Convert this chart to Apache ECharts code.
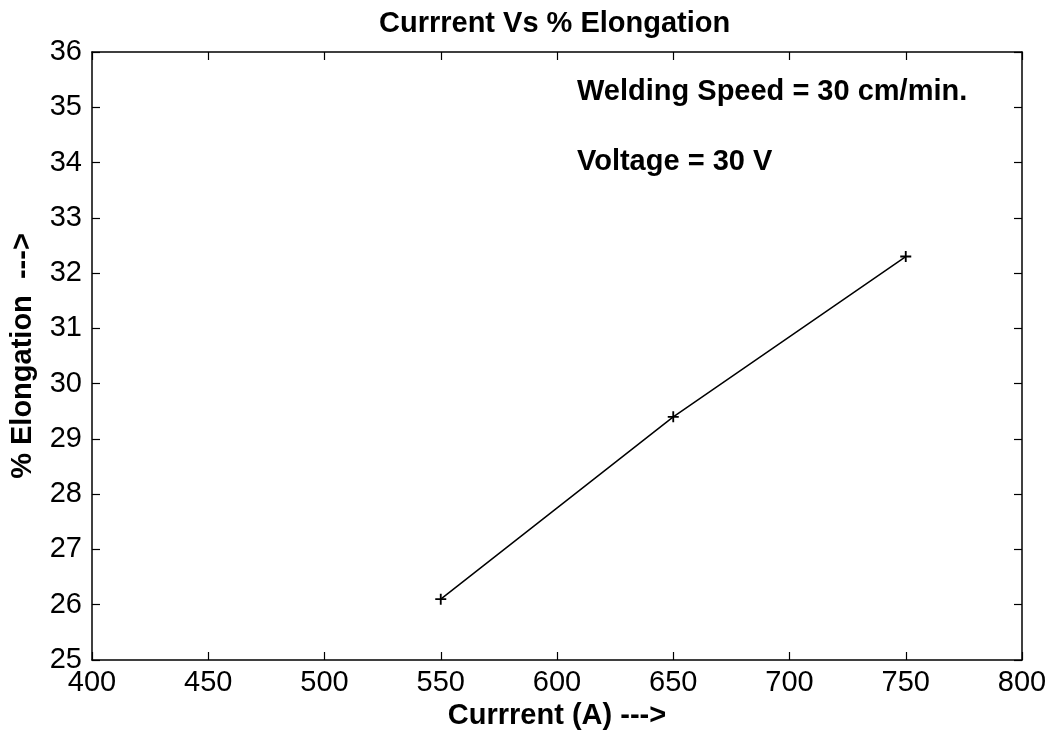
<!DOCTYPE html>
<html>
<head>
<meta charset="utf-8">
<script src="https://cdn.jsdelivr.net/npm/echarts@6/dist/echarts.min.js"></script>
<style>
  html, body { margin: 0; padding: 0; background: #fff; }
  #chart { width: 1057px; height: 739px; }
</style>
</head>
<body>
<div id="chart"></div>
<script>
// data
const currents = [550, 650, 750]            // Current (A)
const elongation = [26.1, 29.4, 32.3]       // % Elongation
const notes = ['Welding Speed = 30 cm/min.', 'Voltage = 30 V']

const FONT = '"Liberation Sans", Arial, Helvetica, sans-serif'
const plus = 'path://M4,0h1.6v4h4v1.6h-4v4h-1.6v-4h-4v-1.6h4z'   // "+" marker

const points = currents.map((c, i) => [c, elongation[i]])

const axisBase = {
  axisLine: { show: true, onZero: false, lineStyle: { color: '#000', width: 1.5 } },
  axisTick: { show: true, inside: true, length: 8, lineStyle: { color: '#000', width: 1.2 } },
  splitLine: { show: false }
}
const boldText = { fontFamily: FONT, fontSize: 29, fontWeight: 'bold', color: '#000' }

const chart = echarts.init(document.getElementById('chart'))
chart.setOption({
  animation: false,
  backgroundColor: '#fff',
  title: {
    text: 'Currrent Vs % Elongation',
    left: 374,                                // centred over the plot box, not the page
    top: 4,
    textStyle: boldText
  },
  grid: { left: 92, right: 35, top: 52, bottom: 79 },
  xAxis: [
    {
      ...axisBase,
      type: 'value', min: 400, max: 800, interval: 50,
      name: 'Currrent (A) --->', nameLocation: 'middle', nameGap: 39,
      nameTextStyle: boldText,
      axisLabel: { fontFamily: FONT, fontSize: 29, color: '#000', margin: 8 }
    },
    { ...axisBase, type: 'value', position: 'top', min: 400, max: 800, interval: 50, axisLabel: { show: false } }
  ],
  yAxis: [
    {
      ...axisBase,
      type: 'value', min: 25, max: 36, interval: 1,
      name: '% Elongation  --->', nameLocation: 'middle', nameGap: 55,
      nameTextStyle: boldText,
      axisLabel: { fontFamily: FONT, fontSize: 29, color: '#000', margin: 10 }
    },
    { ...axisBase, type: 'value', position: 'right', min: 25, max: 36, interval: 1, axisLabel: { show: false } }
  ],
  graphic: notes.map((t, i) => ({
    type: 'text',
    left: 577,
    top: 77 + i * 70,
    style: { text: t, fontFamily: FONT, fontSize: 29, fontWeight: 'bold', fill: '#000' }
  })),
  series: [{
    type: 'line',
    data: points,
    symbol: plus,
    symbolSize: 11,
    itemStyle: { color: '#000' },
    lineStyle: { color: '#000', width: 1.5 }
  }]
})
</script>
</body>
</html>
